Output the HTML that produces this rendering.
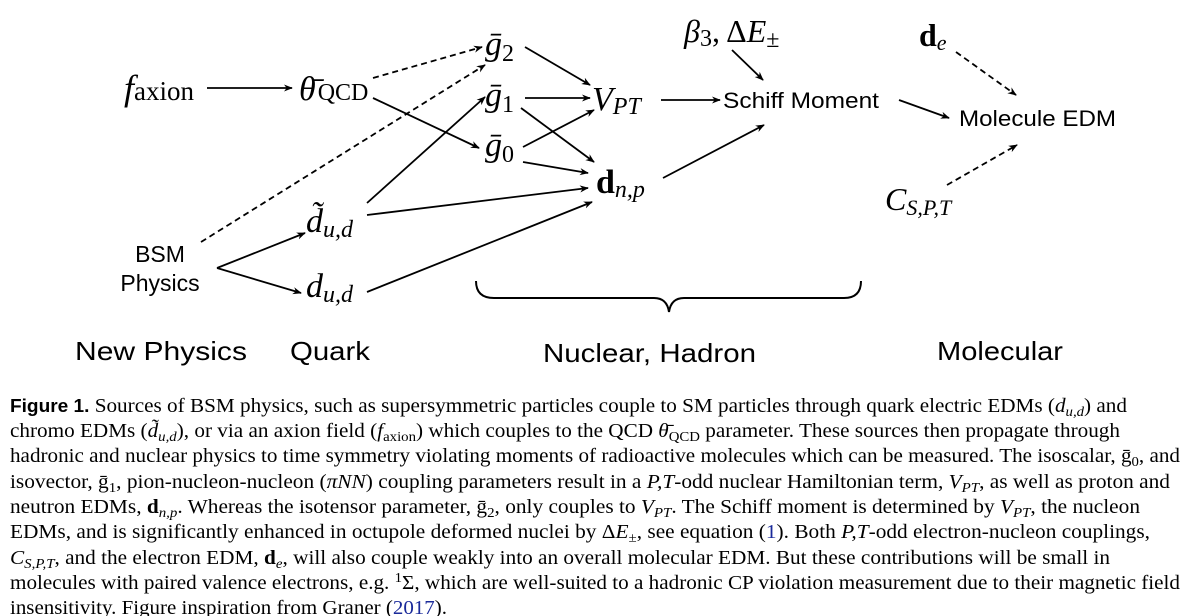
<!DOCTYPE html>
<html><head><meta charset="utf-8"><style>
html,body{margin:0;padding:0;background:#fff;width:1200px;height:616px;overflow:hidden}
svg{display:block}
.m{font-family:"Liberation Serif",serif;font-style:italic}
.r{font-family:"Liberation Serif",serif}
.s{font-family:"Liberation Sans",sans-serif}
.c{font-family:"Liberation Serif",serif;font-size:20px}
</style></head><body>
<svg width="1200" height="616" viewBox="0 0 1200 616" xmlns="http://www.w3.org/2000/svg">
<defs>
<marker id="a" viewBox="0 0 10 10" refX="9" refY="5" markerWidth="9" markerHeight="9" orient="auto" markerUnits="userSpaceOnUse">
<path d="M0,1 L10,5 L0,9 L3,5 Z" fill="#000"/></marker>
</defs>
<g stroke="#000" stroke-width="1.8" fill="none" marker-end="url(#a)">
<line x1="207" y1="88" x2="292" y2="88"/>
<line x1="373" y1="78" x2="482" y2="47" stroke-dasharray="6,4"/>
<line x1="373" y1="98" x2="479" y2="148"/>
<line x1="201" y1="242" x2="485" y2="65" stroke-dasharray="6,4"/>
<line x1="367" y1="203" x2="485" y2="97"/>
<line x1="367" y1="215" x2="588" y2="188"/>
<line x1="367" y1="292" x2="592" y2="202"/>
<line x1="217" y1="268" x2="305" y2="233"/>
<line x1="217" y1="268" x2="301" y2="293"/>
<line x1="525" y1="47" x2="590" y2="85"/>
<line x1="525" y1="98" x2="590" y2="98"/>
<line x1="521" y1="108" x2="594" y2="162"/>
<line x1="523" y1="147" x2="594" y2="110"/>
<line x1="523" y1="162" x2="588" y2="173"/>
<line x1="732" y1="50" x2="763" y2="80"/>
<line x1="661" y1="100" x2="720" y2="100"/>
<line x1="663" y1="178" x2="764" y2="125"/>
<line x1="899" y1="100" x2="949" y2="118"/>
<line x1="956" y1="52" x2="1016" y2="95" stroke-dasharray="6,4"/>
<line x1="947" y1="185" x2="1017" y2="145" stroke-dasharray="6,4"/>
</g>
<path d="M476,281 Q476,298 494,298 L654,298 Q667,298 669,312 Q671,298 684,298 L844,298 Q861,298 861,281" stroke="#000" stroke-width="2" fill="none"/>
<g fill="#000">
<text class="m" x="124" y="100" font-size="36">f<tspan class="r" font-style="normal" font-size="27">axion</tspan></text>
<text class="m" x="299" y="100" font-size="34">θ̄<tspan class="r" font-style="normal" font-size="24" dx="2">QCD</tspan></text>
<text class="m" x="485" y="55" font-size="34">ḡ<tspan class="r" font-style="normal" font-size="24" dy="6">2</tspan></text>
<text class="m" x="485" y="106" font-size="34">ḡ<tspan class="r" font-style="normal" font-size="24" dy="6">1</tspan></text>
<text class="m" x="485" y="156" font-size="34">ḡ<tspan class="r" font-style="normal" font-size="24" dy="6">0</tspan></text>
<text class="m" x="592" y="110" font-size="34">V<tspan font-size="24" dy="4">PT</tspan></text>
<text class="r" x="596" y="193" font-size="34" font-weight="bold">d<tspan class="m" font-weight="normal" font-size="24" dy="4">n,p</tspan></text>
<text class="m" x="306" y="232" font-size="34">d̃<tspan font-size="24" dy="5">u,d</tspan></text>
<text class="m" x="306" y="297" font-size="34">d<tspan font-size="24" dy="5">u,d</tspan></text>
<text class="s" x="160" y="262" font-size="23" text-anchor="middle">BSM</text>
<text class="s" x="160" y="291" font-size="23" text-anchor="middle">Physics</text>
<text class="m" x="684" y="42" font-size="32">β<tspan class="r" font-style="normal" font-size="24" dy="4">3</tspan><tspan class="r" font-style="normal" dy="-4">, Δ</tspan>E<tspan class="r" font-style="normal" font-size="24" dy="5">±</tspan></text>
<text class="s" x="723" y="108" font-size="22" textLength="156" lengthAdjust="spacingAndGlyphs">Schiff Moment</text>
<text class="s" x="959" y="126" font-size="22" textLength="157" lengthAdjust="spacingAndGlyphs">Molecule EDM</text>
<text class="r" x="919" y="46" font-size="32" font-weight="bold">d<tspan class="m" font-weight="normal" font-size="22" dy="4">e</tspan></text>
<text class="m" x="885" y="210" font-size="32">C<tspan font-size="22" dy="5">S,P,T</tspan></text>
<text class="s" x="75" y="360" font-size="26" textLength="172" lengthAdjust="spacingAndGlyphs">New Physics</text>
<text class="s" x="290" y="360" font-size="26" textLength="80" lengthAdjust="spacingAndGlyphs">Quark</text>
<text class="s" x="543" y="362" font-size="26" textLength="213" lengthAdjust="spacingAndGlyphs">Nuclear, Hadron</text>
<text class="s" x="937" y="360" font-size="26" textLength="126" lengthAdjust="spacingAndGlyphs">Molecular</text>
</g>
<g class="c" fill="#000">
<text x="10" y="412" textLength="1117" lengthAdjust="spacingAndGlyphs"><tspan class="s" font-weight="bold" font-size="18">Figure 1.</tspan>  Sources of BSM physics, such as supersymmetric particles couple to SM particles through quark electric EDMs (<tspan font-style="italic">d</tspan><tspan font-style="italic" font-size="14" dy="4">u,d</tspan><tspan dy="-4">) and</tspan></text>
<text x="10" y="437" textLength="1110" lengthAdjust="spacingAndGlyphs">chromo EDMs (<tspan font-style="italic">d̃</tspan><tspan font-style="italic" font-size="14" dy="4">u,d</tspan><tspan dy="-4">), or via an axion field (</tspan><tspan font-style="italic">f</tspan><tspan font-size="14" dy="4">axion</tspan><tspan dy="-4">) which couples to the QCD </tspan><tspan font-style="italic">θ̄</tspan><tspan font-size="14" dy="4">QCD</tspan><tspan dy="-4"> parameter. These sources then propagate through</tspan></text>
<text x="10" y="462" textLength="1170" lengthAdjust="spacingAndGlyphs">hadronic and nuclear physics to time symmetry violating moments of radioactive molecules which can be measured. The isoscalar, ḡ<tspan font-size="14" dy="4">0</tspan><tspan dy="-4">, and</tspan></text>
<text x="10" y="488" textLength="1160" lengthAdjust="spacingAndGlyphs">isovector, ḡ<tspan font-size="14" dy="4">1</tspan><tspan dy="-4">, pion-nucleon-nucleon (</tspan><tspan font-style="italic">πNN</tspan>) coupling parameters result in a <tspan font-style="italic">P,T</tspan>-odd nuclear Hamiltonian term, <tspan font-style="italic">V</tspan><tspan font-style="italic" font-size="14" dy="4">PT</tspan><tspan dy="-4">, as well as proton and</tspan></text>
<text x="10" y="513" textLength="1130" lengthAdjust="spacingAndGlyphs">neutron EDMs, <tspan font-weight="bold">d</tspan><tspan font-style="italic" font-size="14" dy="4">n,p</tspan><tspan dy="-4">. Whereas the isotensor parameter, ḡ</tspan><tspan font-size="14" dy="4">2</tspan><tspan dy="-4">, only couples to </tspan><tspan font-style="italic">V</tspan><tspan font-style="italic" font-size="14" dy="4">PT</tspan><tspan dy="-4">. The Schiff moment is determined by </tspan><tspan font-style="italic">V</tspan><tspan font-style="italic" font-size="14" dy="4">PT</tspan><tspan dy="-4">, the nucleon</tspan></text>
<text x="10" y="538" textLength="1140" lengthAdjust="spacingAndGlyphs">EDMs, and is significantly enhanced in octupole deformed nuclei by Δ<tspan font-style="italic">E</tspan><tspan font-size="14" dy="4">±</tspan><tspan dy="-4">, see equation (</tspan><tspan fill="#1a2a9a">1</tspan>). Both <tspan font-style="italic">P,T</tspan>-odd electron-nucleon couplings,</text>
<text x="10" y="564" textLength="1100" lengthAdjust="spacingAndGlyphs"><tspan font-style="italic">C</tspan><tspan font-style="italic" font-size="14" dy="4">S,P,T</tspan><tspan dy="-4">, and the electron EDM, </tspan><tspan font-weight="bold">d</tspan><tspan font-style="italic" font-size="14" dy="4">e</tspan><tspan dy="-4">, will also couple weakly into an overall molecular EDM. But these contributions will be small in</tspan></text>
<text x="10" y="589" textLength="1170" lengthAdjust="spacingAndGlyphs">molecules with paired valence electrons, e.g. <tspan font-size="14" dy="-7">1</tspan><tspan dy="7">Σ, which are well-suited to a hadronic CP violation measurement due to their magnetic field</tspan></text>
<text x="10" y="614" textLength="437" lengthAdjust="spacingAndGlyphs">insensitivity. Figure inspiration from Graner (<tspan fill="#1a2a9a">2017</tspan>).</text>
</g>
</svg>
</body></html>
